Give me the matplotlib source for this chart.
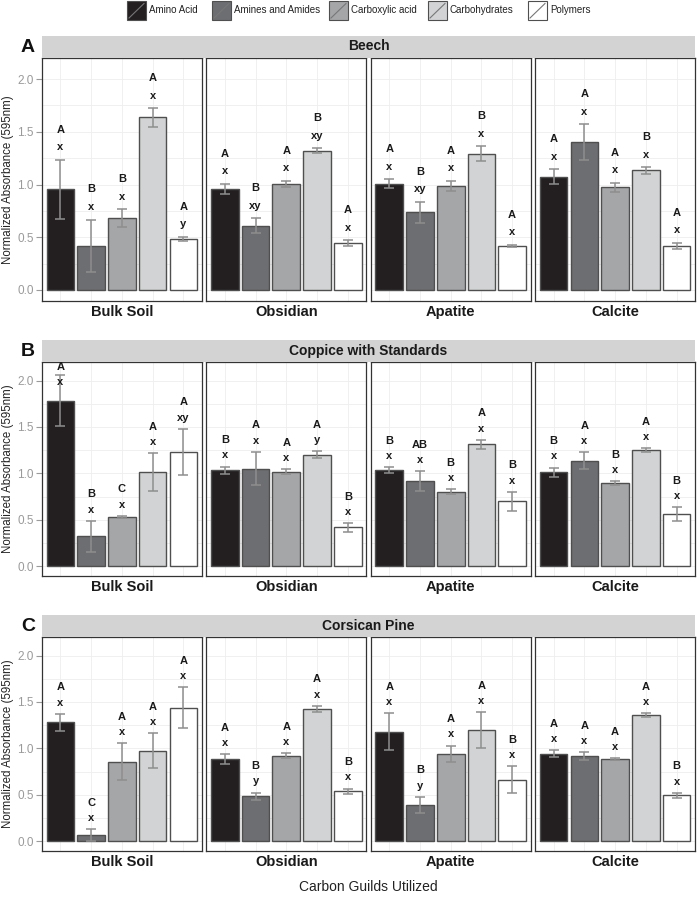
import matplotlib
matplotlib.use("Agg")
import matplotlib.pyplot as plt
import numpy as np
from matplotlib.patches import Rectangle
from matplotlib.lines import Line2D

plt.rcParams['font.family'] = ['Liberation Sans', 'DejaVu Sans']

# ---------------- data ----------------
guilds = ["Amino Acid", "Amines and Amides", "Carboxylic acid", "Carbohydrates", "Polymers"]
guild_colors = ["#231f20", "#6d6e71", "#a4a6a8", "#d1d3d4", "#ffffff"]
substrates = ["Bulk Soil", "Obsidian", "Apatite", "Calcite"]
stands = ["Beech", "Coppice with Standards", "Corsican Pine"]
panel_letters = ["A", "B", "C"]
y_ticks = [0.0, 0.5, 1.0, 1.5, 2.0]

beech_mean = [
    [0.956, 0.418, 0.680, 1.636, 0.481],
    [0.959, 0.608, 1.003, 1.320, 0.443],
    [1.009, 0.737, 0.984, 1.294, 0.418],
    [1.073, 1.402, 0.972, 1.133, 0.418],
]
beech_se = [
    [0.280, 0.250, 0.085, 0.088, 0.020],
    [0.045, 0.070, 0.030, 0.024, 0.028],
    [0.040, 0.100, 0.050, 0.068, 0.010],
    [0.070, 0.170, 0.045, 0.030, 0.030],
]
beech_upper = [["A", "B", "B", "A", "A"], ["A", "B", "A", "B", "A"],
               ["A", "B", "A", "B", "A"], ["A", "A", "A", "B", "A"]]
beech_lower = [["x", "x", "x", "x", "y"], ["x", "xy", "x", "xy", "x"],
               ["x", "xy", "x", "x", "x"], ["x", "x", "x", "x", "x"]]

coppice_mean = [
    [1.784, 0.321, 0.533, 1.013, 1.229],
    [1.034, 1.052, 1.020, 1.200, 0.418],
    [1.034, 0.915, 0.804, 1.315, 0.699],
    [1.013, 1.139, 0.894, 1.254, 0.559],
]
coppice_se = [
    [0.274, 0.167, 0.010, 0.207, 0.250],
    [0.040, 0.180, 0.027, 0.038, 0.045],
    [0.030, 0.108, 0.024, 0.047, 0.103],
    [0.050, 0.090, 0.022, 0.020, 0.074],
]
coppice_upper = [["A", "B", "C", "A", "A"], ["B", "A", "A", "A", "B"],
                 ["B", "AB", "B", "A", "B"], ["B", "A", "B", "A", "B"]]
coppice_lower = [["x", "x", "x", "x", "xy"], ["x", "x", "x", "y", "x"],
                 ["x", "x", "x", "x", "x"], ["x", "x", "x", "x", "x"]]

pine_mean = [
    [1.282, 0.069, 0.856, 0.975, 1.437],
    [0.888, 0.484, 0.920, 1.426, 0.538],
    [1.181, 0.394, 0.942, 1.195, 0.664],
    [0.942, 0.917, 0.881, 1.361, 0.495],
]
pine_se = [
    [0.092, 0.061, 0.200, 0.190, 0.222],
    [0.052, 0.040, 0.027, 0.034, 0.030],
    [0.197, 0.085, 0.088, 0.193, 0.146],
    [0.036, 0.043, 0.011, 0.020, 0.027],
]
pine_upper = [["A", "C", "A", "A", "A"], ["A", "B", "A", "A", "B"],
              ["A", "B", "A", "A", "B"], ["A", "A", "A", "A", "B"]]
pine_lower = [["x", "x", "x", "x", "x"], ["x", "y", "x", "x", "x"],
              ["x", "y", "x", "x", "x"], ["x", "x", "x", "x", "x"]]

all_means = [beech_mean, coppice_mean, pine_mean]
all_se = [beech_se, coppice_se, pine_se]
all_upper = [beech_upper, coppice_upper, pine_upper]
all_lower = [beech_lower, coppice_lower, pine_lower]

# ---------------- layout (pixels) ----------------
W, H = 697, 897
fig = plt.figure(figsize=(W / 100, H / 100), dpi=100)
fig.patch.set_facecolor("white")

def fx(px):
    return px / W

def fy(py):
    return 1 - py / H

rows = [(58, 301), (362, 576), (637, 851)]
strip_h = 22
col_left = [42, 206.4, 370.8, 535.2]
col_w = 159.8
strip_left, strip_right = 42, 695

edge_col = "#4f4f4f"
err_col = "#8e8e8e"
ylim = (-0.105, 2.2)

for r, (top, bottom) in enumerate(rows):
    # strip
    fig.add_artist(Rectangle((fx(strip_left), fy(top)), (strip_right - strip_left) / W,
                             strip_h / H, transform=fig.transFigure,
                             facecolor="#d3d3d3", edgecolor="none"))
    fig.text(fx((strip_left + strip_right) / 2), fy(top - strip_h / 2 - 0.5), stands[r],
             ha="center", va="center", fontsize=10, fontweight="bold", color="#1a1a1a")
    fig.text(fx(28), fy(top - strip_h / 2), panel_letters[r], ha="center", va="center",
             fontsize=14, fontweight="bold", color="#111111")
    fig.text(fx(8), fy((top + bottom) / 2), "Normalized Absorbance (595nm)",
             rotation=90, ha="center", va="center", fontsize=8.3, color="#222222")

    for c in range(4):
        ax = fig.add_axes([fx(col_left[c]), fy(bottom), col_w / W, (bottom - top) / H])
        x = np.arange(1, 6)
        means = np.array(all_means[r][c])
        se = np.array(all_se[r][c])
        ax.bar(x, means, width=0.9, color=guild_colors, edgecolor=edge_col,
               linewidth=1.0, zorder=2)
        ax.errorbar(x, means, yerr=se, fmt="none", ecolor=err_col, elinewidth=1.1,
                    capsize=3.6, capthick=1.1, zorder=3)
        for i in range(5):
            ylow = min(means[i] + se[i] + 0.12, 1.98)
            ax.text(x[i], ylow, all_lower[r][c][i], ha="center", va="center",
                    fontsize=8, fontweight="bold", color="#1a1a1a", zorder=4)
            ax.text(x[i], ylow + 0.165, all_upper[r][c][i], ha="center", va="center",
                    fontsize=8, fontweight="bold", color="#1a1a1a", zorder=4)
        ax.set_xlim(0.4, 5.6)
        ax.set_ylim(*ylim)
        ax.set_xticks(x)
        ax.set_xticklabels([])
        ax.tick_params(axis="x", length=0)
        ax.set_yticks(y_ticks)
        ax.set_yticks(np.arange(0.25, 2.2, 0.5), minor=True)
        ax.tick_params(axis="y", which="minor", length=0)
        ax.grid(True, which="both", color="#eeeeee", linewidth=0.6, zorder=0)
        ax.set_axisbelow(True)
        if c == 0:
            ax.set_yticklabels([f"{v:.1f}" for v in y_ticks])
            ax.tick_params(axis="y", which="major", length=4, color="#9a9a9a",
                           labelsize=8.5, labelcolor="#9a9a9a", pad=2)
        else:
            ax.tick_params(axis="y", which="major", left=False, labelleft=False)
        for sp in ax.spines.values():
            sp.set_color("#333333")
            sp.set_linewidth(0.9)
        fig.text(fx(col_left[c] + col_w / 2), fy(bottom + 11), substrates[c],
                 ha="center", va="center", fontsize=10.5, fontweight="bold",
                 color="#1a1a1a")

# ---------------- legend ----------------
key_left = [127, 212, 329, 428, 528]
key_w, key_top, key_h = 19, 1.5, 18.5
for k in range(5):
    fig.add_artist(Rectangle((fx(key_left[k]), fy(key_top + key_h)), key_w / W, key_h / H,
                             transform=fig.transFigure, facecolor=guild_colors[k],
                             edgecolor=edge_col, linewidth=0.8))
    fig.add_artist(Line2D([fx(key_left[k] + 2), fx(key_left[k] + key_w - 2)],
                          [fy(key_top + key_h - 2), fy(key_top + 2)],
                          transform=fig.transFigure, color="#777777", linewidth=0.8))
    fig.text(fx(key_left[k] + key_w + 3), fy(10), guilds[k], ha="left", va="center",
             fontsize=7, color="#222222")

fig.text(fx(368), fy(887), "Carbon Guilds Utilized", ha="center", va="center",
         fontsize=10, color="#222222")

fig.savefig("out.png", dpi=100)
